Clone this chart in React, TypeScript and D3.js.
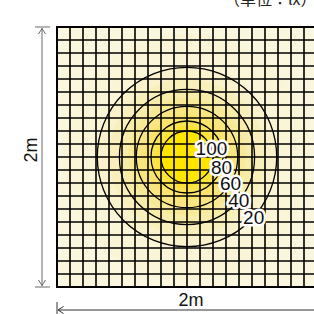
import React from "react";
import * as d3 from "d3";

// ---- data ----
const unitLabel = "（単位：lx）";
const sizeLabel = "2m";
const roomSize = [0, 2]; // metres
const cellsPerSide = 20;
const lampPos = [1, 1]; // metres (x, y)
// contour lines (lx) and their radius from the lamp (m)
const contourLevels = [100, 80, 60, 40, 20];
const contourRadii = [0.2, 0.277, 0.39, 0.52, 0.69];
// label direction for each contour (degrees, clockwise from +x)
const labelAngles = [-20, 16, 31, 40, 42];
// shading bands (lx) and their radius (m)
const bandLevels = [100, 90, 80, 70, 60, 50, 40, 30, 20, 10, 5];
const bandRadii = [0.2, 0.24, 0.277, 0.33, 0.39, 0.45, 0.52, 0.6, 0.69, 0.95, 1.35];
const colorStops = [0, 20, 40, 60, 80, 100];
const colorValues = ["#FAF8E2", "#F9F0C4", "#F8EAA0", "#F9E477", "#FCE445", "#FFE500"];

const W = 314;
const H = 314;
const gx0 = 57, gx1 = 317, gy0 = 27, gy1 = 287;

export default function App() {
  const xs = d3.scaleLinear().domain(roomSize).range([gx0, gx1]);
  const ys = d3.scaleLinear().domain(roomSize).range([gy0, gy1]);
  const color = d3.scaleLinear<string>().domain(colorStops).range(colorValues).clamp(true);
  const cx = xs(lampPos[0]);
  const cy = ys(lampPos[1]);
  const rpx = (m: number) => xs(m) - xs(0);
  const step = (roomSize[1] - roomSize[0]) / cellsPerSide;
  const lines = d3.range(cellsPerSide + 1).map((i) => roomSize[0] + i * step);

  const bands = bandLevels
    .map((lv, i) => ({
      r: bandRadii[i],
      v: i + 1 < bandLevels.length ? (lv + bandLevels[i + 1]) / 2 : lv / 2,
    }))
    .reverse();

  const sans = "'Liberation Sans', Arial, sans-serif";
  const grayArrow = "#6a6a6a";

  return (
    <svg
      width={W}
      height={H}
      style={{ position: "absolute", left: 0, top: 0, background: "#fff" }}
    >
      <defs>
        <clipPath id="room">
          <rect x={gx0} y={gy0} width={gx1 - gx0} height={gy1 - gy0} />
        </clipPath>
      </defs>
      <text
        x={224}
        y={5}
        fontSize={16}
        fontFamily="'Noto Sans CJK JP', sans-serif"
        fill="#222"
      >
        {unitLabel}
      </text>

      <g clipPath="url(#room)">
        <rect x={gx0} y={gy0} width={gx1 - gx0} height={gy1 - gy0} fill={color(0)} />
        {bands.map((b, i) => (
          <circle key={i} cx={cx} cy={cy} r={rpx(b.r)} fill={color(b.v)} />
        ))}
        <circle cx={cx} cy={cy} r={rpx(bandRadii[0])} fill={color(bandLevels[0])} />
        {lines.map((v, i) => (
          <line key={"v" + i} x1={xs(v)} x2={xs(v)} y1={gy0} y2={gy1} stroke="#000" strokeWidth={1.6} />
        ))}
        {lines.map((v, i) => (
          <line key={"h" + i} x1={gx0} x2={gx1} y1={ys(v)} y2={ys(v)} stroke="#000" strokeWidth={1.6} />
        ))}
        {contourRadii.map((r, i) => (
          <circle key={"c" + i} cx={cx} cy={cy} r={rpx(r)} fill="none" stroke="#000" strokeWidth={1.3} />
        ))}
      </g>
      <rect x={gx0} y={gy0} width={gx1 - gx0} height={gy1 - gy0} fill="none" stroke="#000" strokeWidth={2} />

      {contourLevels.map((lv, i) => {
        const a = (labelAngles[i] * Math.PI) / 180;
        const r = rpx(contourRadii[i]);
        return (
          <text
            key={"l" + i}
            x={cx + r * Math.cos(a)}
            y={cy + r * Math.sin(a)}
            dy="0.35em"
            textAnchor="middle"
            fontSize={19}
            fontFamily={sans}
            fill="#111"
            stroke="#fff"
            strokeWidth={5}
            strokeLinejoin="round"
            paintOrder="stroke"
          >
            {lv}
          </text>
        );
      })}

      {/* vertical dimension */}
      <g stroke={grayArrow} strokeWidth={1} fill="none">
        <line x1={35} x2={50} y1={gy0} y2={gy0} />
        <line x1={35} x2={50} y1={gy1} y2={gy1} />
        <line x1={42} x2={42} y1={gy0 + 1} y2={gy1 - 1} />
        <polyline points={`38.5,34 42,28.5 45.5,34`} />
        <polyline points={`38.5,280 42,285.5 45.5,280`} />
      </g>
      <text
        transform={`translate(37,150) rotate(-90)`}
        textAnchor="middle"
        fontSize={18}
        fontFamily={sans}
        fill="#111"
      >
        {sizeLabel}
      </text>

      {/* horizontal dimension */}
      <g stroke="#333" strokeWidth={1} fill="none">
        <line x1={57} x2={57} y1={302} y2={318} />
        <line x1={58} x2={314} y1={310} y2={310} />
        <polyline points={`63.5,306.5 58,310 63.5,313.5`} />
      </g>
      <text x={191} y={306} textAnchor="middle" fontSize={18} fontFamily={sans} fill="#111">
        {sizeLabel}
      </text>
    </svg>
  );
}
